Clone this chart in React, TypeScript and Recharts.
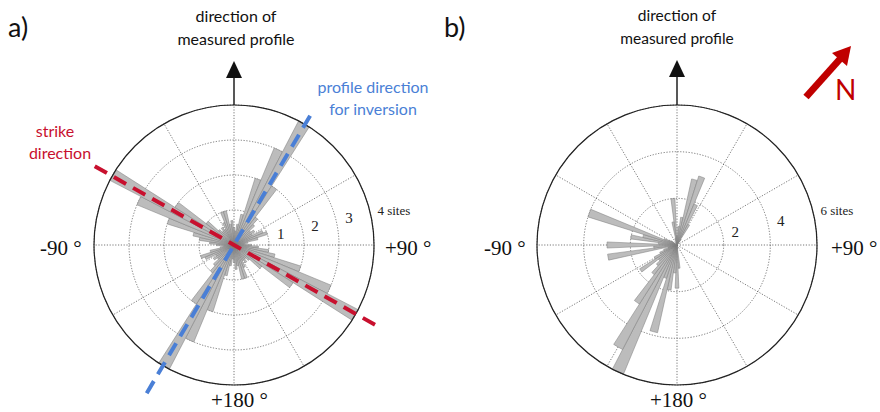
import React from 'react'
import {
  RadialBarChart,
  RadialBar,
  PolarGrid,
  PolarAngleAxis,
  PolarRadiusAxis,
} from 'recharts'

// 5 degree bins, clockwise from the measured profile direction (up)
const dirs = [
  0, 5, 10, 15, 20, 25, 30, 35, 40, 45, 50, 55, 60, 65, 70, 75, 80, 85,
  90, 95, 100, 105, 110, 115, 120, 125, 130, 135, 140, 145, 150, 155, 160, 165, 170, 175,
  180, 185, 190, 195, 200, 205, 210, 215, 220, 225, 230, 235, 240, 245, 250, 255, 260, 265,
  270, 275, 280, 285, 290, 295, 300, 305, 310, 315, 320, 325, 330, 335, 340, 345, 350, 355,
]

// a) number of sites per bin (axial, so each petal shows up twice)
const sitesA = [
  0.7, 0.5, 0.4, 0.6, 0.9, 2.0, 3.0, 4.0, 2.0, 1.0, 0.8, 0.6, 0.7, 0.6, 0.9, 1.0, 0.7, 0.4,
  0.3, 0.5, 0.7, 1.0, 1.2, 2.0, 3.0, 4.0, 2.0, 1.0, 0.6, 0.5, 0.6, 0.5, 0.7, 1.0, 1.0, 0.6,
  0.7, 0.5, 0.4, 0.6, 0.9, 2.0, 3.0, 4.0, 2.0, 1.0, 0.8, 0.6, 0.7, 0.6, 0.9, 1.0, 0.7, 0.4,
  0.3, 0.5, 0.7, 1.0, 1.2, 2.0, 3.0, 4.0, 2.0, 1.0, 0.6, 0.5, 0.6, 0.5, 0.7, 1.0, 1.0, 0.6,
]

// b) number of sites per bin
const sitesB = [
  2.0, 0.4, 0.8, 1.2, 2.9, 3.1, 1.9, 1.0, 0.3, 0, 0, 0, 0, 0, 0, 0, 0, 0,
  0, 0, 0, 0, 0, 0, 0, 0, 0, 0, 0, 0, 0, 0, 0, 0, 0, 0,
  1.0, 1.85, 1.2, 1.95, 3.85, 1.5, 6.0, 5.05, 3.0, 1.6, 1.2, 1.0, 1.9, 1.1, 0.8, 0.6, 0.4, 3.0,
  1.0, 3.0, 0.8, 2.0, 1.5, 4.0, 0.6, 0.4, 0.3, 0, 0, 0, 0, 0, 0, 0, 0.3, 1.0,
]

const spokes = [0, 30, 60, 90, 120, 150, 180, 210, 240, 270, 300, 330]
const maxA = 4
const maxB = 6

// annotation directions in panel a (degrees clockwise from up)
const strikeDir = -60.5
const inversionDir = 30.5

const dataA = dirs.map((d, i) => ({ dir: d, sites: sitesA[i] }))
const dataB = dirs.map((d, i) => ({ dir: d, sites: sitesB[i] }))

const R = 140
const CY = 245
const CXA = 234
const CXB = 237 // inside the right chart, which starts at x=440

const serif = '"Liberation Serif", "DejaVu Serif", serif'
const sans = 'Lato, "Open Sans", sans-serif'

const ringTick = (max: number) => (props: any) => {
  const { x, y, payload } = props
  const v = payload?.value
  if (!v) return <g />
  const last = v === max
  return (
    <text
      x={x + (last ? 7 : 9)}
      y={y - 3}
      dominantBaseline="central"
      fontFamily={serif}
      fontSize={last ? 13 : 15}
      fill="#222"
    >
      {last ? `${v} sites` : v}
    </text>
  )
}

function Rose({ data, cx, max, ticks }: { data: any[]; cx: number; max: number; ticks: number }) {
  return (
    <RadialBarChart
      width={440}
      height={412}
      cx={cx}
      cy={CY}
      innerRadius={0}
      outerRadius={R}
      data={data}
      layout="centric"
      startAngle={92.5}
      endAngle={-267.5}
      barCategoryGap={0}
      barGap={0}
    >
      <PolarGrid
        gridType="circle"
        polarAngles={spokes.map((d) => 90 - d)}
        stroke="#555"
        strokeWidth={0.8}
        strokeDasharray="1.2 1.6"
      />
      <RadialBar
        dataKey="sites"
        fill="#bcbcbc"
        stroke="#7a7a7a"
        strokeWidth={0.5}
        isAnimationActive={false}
      />
      <PolarAngleAxis
        dataKey="dir"
        type="category"
        tick={false}
        tickLine={false}
        axisLineType="circle"
        stroke="#222"
        axisLine={{ stroke: '#222', strokeWidth: 1.2 }}
      />
      <PolarRadiusAxis
        type="number"
        domain={[0, max]}
        tickCount={ticks}
        angle={13}
        axisLine={false}
        tickLine={false}
        tick={ringTick(max)}
      />
    </RadialBarChart>
  )
}

function endPoint(dir: number, len: number, cx: number) {
  const a = (dir * Math.PI) / 180
  return [cx + len * Math.sin(a), CY - len * Math.cos(a)]
}

export default function App() {
  const [s1x, s1y] = endPoint(strikeDir, 160, CXA)
  const [s2x, s2y] = endPoint(strikeDir + 180, 168, CXA)
  const [p1x, p1y] = endPoint(inversionDir, 150, CXA)
  const [p2x, p2y] = endPoint(inversionDir + 180, 172, CXA)

  return (
    <div style={{ position: 'absolute', left: 0, top: 0, width: 880, height: 412, background: '#fff' }}>
      <div style={{ position: 'absolute', left: 0, top: 0 }}>
        <Rose data={dataA} cx={CXA} max={maxA} ticks={5} />
      </div>
      <div style={{ position: 'absolute', left: 440, top: 0 }}>
        <Rose data={dataB} cx={CXB} max={maxB} ticks={4} />
      </div>

      <svg width={880} height={412} style={{ position: 'absolute', left: 0, top: 0, pointerEvents: 'none' }}>
        {/* panel letters */}
        <text x={8} y={37} fontFamily={sans} fontSize={27} fill="#111">a)</text>
        <text x={444} y={37} fontFamily={sans} fontSize={27} fill="#111">b)</text>

        {/* profile direction arrows */}
        <text x={236} y={22} textAnchor="middle" fontFamily={sans} fontSize={16} fill="#111">direction of</text>
        <text x={236} y={45} textAnchor="middle" fontFamily={sans} fontSize={16} fill="#111">measured profile</text>
        <line x1={CXA} y1={76} x2={CXA} y2={CY - R} stroke="#111" strokeWidth={1.4} />
        <polygon points={`${CXA - 8},78 ${CXA + 8},78 ${CXA},61`} fill="#111" />

        <text x={677} y={21} textAnchor="middle" fontFamily={sans} fontSize={15.5} fill="#111">direction of</text>
        <text x={677} y={44} textAnchor="middle" fontFamily={sans} fontSize={15.5} fill="#111">measured profile</text>
        <line x1={440 + CXB} y1={76} x2={440 + CXB} y2={CY - R} stroke="#111" strokeWidth={1.4} />
        <polygon points={`${440 + CXB - 8},77 ${440 + CXB + 8},77 ${440 + CXB},60`} fill="#111" />

        {/* angle labels */}
        <text x={40} y={255} fontFamily={serif} fontSize={21} fill="#111">-90 °</text>
        <text x={385} y={255} fontFamily={serif} fontSize={21} fill="#111">+90 °</text>
        <text x={211} y={407} fontFamily={serif} fontSize={21} fill="#111">+180 °</text>
        <text x={484} y={255} fontFamily={serif} fontSize={21} fill="#111">-90 °</text>
        <text x={831} y={255} fontFamily={serif} fontSize={21} fill="#111">+90 °</text>
        <text x={650} y={407} fontFamily={serif} fontSize={21} fill="#111">+180 °</text>

        {/* strike and inversion directions */}
        <line x1={s1x} y1={s1y} x2={s2x} y2={s2y} stroke="#c8102e" strokeWidth={4} strokeDasharray="14 8" />
        <line x1={p1x} y1={p1y} x2={p2x} y2={p2y} stroke="#4a7fd6" strokeWidth={4} strokeDasharray="14 8" />
        <text x={55} y={137} textAnchor="middle" fontFamily={sans} fontSize={16} fill="#c8102e">strike</text>
        <text x={60} y={159} textAnchor="middle" fontFamily={sans} fontSize={16} fill="#c8102e">direction</text>
        <text x={373} y={93} textAnchor="middle" fontFamily={sans} fontSize={16} fill="#4a7fd6">profile direction</text>
        <text x={373} y={115} textAnchor="middle" fontFamily={sans} fontSize={16} fill="#4a7fd6">for inversion</text>

        {/* north arrow */}
        <line x1={806} y1={97} x2={840} y2={59} stroke="#c00000" strokeWidth={7} />
        <polygon points="851,46 847,66 832,53" fill="#c00000" />
        <text x={835} y={100} fontFamily={sans} fontSize={28} fill="#c00000">N</text>
      </svg>
    </div>
  )
}
